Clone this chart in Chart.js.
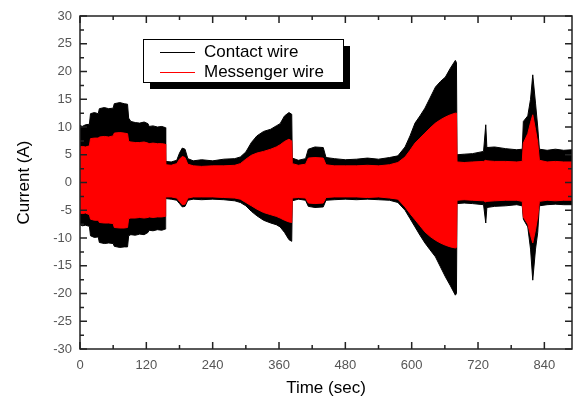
<!DOCTYPE html>
<html>
<head>
<meta charset="utf-8">
<script src="https://cdn.jsdelivr.net/npm/chart.js@4.4.1/dist/chart.umd.min.js"></script>
<style>
  body { margin: 0; background: #fff; }
  #wrap { width: 578px; height: 401px; }
</style>
</head>
<body>
<div id="wrap"><canvas id="currentChart" width="578" height="401"></canvas></div>
<script>
var timeSec = [0, 4, 10, 17, 19, 26, 33, 35, 44, 52, 60, 62, 72, 80, 86, 88, 92, 100, 108, 116, 123, 125, 132, 140, 148, 154,
    155, 165, 175, 180, 185, 190, 195, 205, 220, 240, 260, 280, 290, 300, 310, 320, 332, 345, 355, 362, 370, 378, 383,
    384, 395, 408, 413, 425, 440, 445, 460, 480, 500, 520, 540, 560, 575, 588, 597, 606, 615, 624, 633, 643, 652,
    661, 670, 679, 681, 682, 695, 710, 730, 734, 736, 750, 770, 790, 800, 802, 810, 815, 819, 824, 828, 831, 845, 860,
    875, 890];
var contactUpper = [10.3, 10.1, 10.4, 10.5, 12.4, 12.6, 12.4, 13.3, 13.5, 13.3, 13.4, 14.2, 14.4, 14.2, 14.1, 11.6, 11.0, 10.8, 10.7, 10.9, 10.6, 10.1, 10.2, 10.0, 10.1, 9.9,
    3.8, 3.7, 4.0, 5.3, 6.2, 6.0, 4.3, 3.9, 4.1, 3.9, 4.2, 4.3, 4.6, 5.5, 7.2, 8.4, 9.2, 9.6, 10.2, 10.6, 12.0, 12.6, 12.3,
    4.4, 4.0, 4.3, 6.0, 6.4, 6.3, 4.5, 4.3, 4.1, 4.2, 4.4, 4.2, 4.5, 4.8, 6.4, 8.4, 10.7, 12.0, 13.4, 15.2, 17.2, 18.2,
    19.0, 20.6, 22.0, 21.6, 5.0, 5.1, 5.2, 5.6, 10.4, 6.3, 6.4, 6.1, 5.9, 6.0, 11.0, 12.0, 15.0, 19.4, 14.3, 10.0, 6.0, 5.8, 6.0,
    5.8, 5.9];
var contactLower = [-7.6, -7.8, -7.7, -7.9, -9.6, -9.9, -9.8, -10.8, -11.0, -10.9, -11.0, -11.5, -11.7, -11.6, -11.6, -9.6, -9.4, -9.5, -9.3, -9.4, -9.0, -8.6, -8.7, -8.5, -8.6, -8.4,
    -2.9, -3.0, -3.2, -3.8, -4.4, -4.3, -3.2, -3.0, -3.1, -3.0, -3.1, -3.3, -3.6, -4.2, -5.2, -6.0, -6.8, -7.3, -7.6, -8.0, -9.0, -10.3, -10.6,
    -3.3, -3.0, -3.2, -4.3, -4.5, -4.4, -3.2, -3.1, -3.0, -3.1, -3.0, -3.1, -3.2, -3.6, -5.0, -6.5, -8.0, -9.5, -10.9, -12.1, -13.4, -15.2,
    -17.0, -18.6, -20.3, -20.0, -3.8, -3.7, -3.8, -4.0, -7.3, -4.5, -4.3, -4.2, -4.0, -4.2, -6.6, -8.0, -12.0, -17.6, -12.0, -9.0, -4.2, -4.0, -3.9,
    -4.0, -4.0];
var messengerUpper = [6.4, 6.5, 6.4, 6.6, 7.9, 8.0, 8.0, 8.2, 8.3, 8.2, 8.4, 8.9, 9.0, 8.9, 8.8, 7.4, 7.3, 7.2, 7.2, 7.3, 7.1, 7.0, 7.1, 7.0, 7.0, 6.9,
    3.2, 3.1, 3.4, 4.2, 4.7, 4.5, 3.3, 3.0, 2.9, 3.0, 3.0, 3.1, 3.4, 4.2, 4.9, 5.3, 5.6, 6.0, 6.4, 6.8, 7.4, 7.8, 7.5,
    3.4, 3.1, 3.3, 4.4, 4.5, 4.4, 3.2, 3.0, 3.0, 3.0, 3.1, 3.0, 3.2, 3.6, 4.6, 5.8, 7.1, 8.0, 8.9, 9.8, 10.7, 11.3,
    11.8, 12.2, 12.5, 12.5, 3.7, 3.6, 3.7, 3.8, 4.0, 3.9, 3.8, 3.8, 3.7, 3.8, 7.1, 8.8, 10.8, 12.2, 9.5, 7.2, 4.0, 3.7, 3.8,
    3.7, 3.7];
var messengerLower = [-5.5, -5.6, -5.5, -5.8, -6.6, -6.8, -6.8, -7.2, -7.3, -7.3, -7.4, -8.1, -8.2, -8.2, -8.1, -6.5, -6.4, -6.4, -6.3, -6.4, -6.3, -6.2, -6.3, -6.2, -6.2, -6.1,
    -2.6, -2.6, -2.8, -3.4, -4.0, -3.9, -2.8, -2.6, -2.6, -2.6, -2.7, -2.8, -3.0, -3.6, -4.2, -4.8, -5.4, -5.8, -6.1, -6.4, -6.8, -7.1, -7.2,
    -2.8, -2.7, -2.8, -3.7, -3.8, -3.7, -2.7, -2.6, -2.6, -2.6, -2.7, -2.6, -2.8, -3.0, -4.4, -5.6, -6.7, -7.8, -8.9, -9.7, -10.4, -10.9,
    -11.3, -11.6, -11.8, -11.7, -3.2, -3.1, -3.2, -3.3, -3.5, -3.4, -3.3, -3.2, -3.2, -3.4, -6.2, -7.5, -9.5, -10.9, -8.5, -6.2, -3.4, -3.2, -3.3,
    -3.2, -3.2];

var xTicks = [0, 120, 240, 360, 480, 600, 720, 840];
var yTicks = [-30, -25, -20, -15, -10, -5, 0, 5, 10, 15, 20, 25, 30];
var seriesNames = ['Contact wire', 'Messenger wire'];

function pts(vals) {
    return timeSec.map(function (t, i) { return { x: t, y: vals[i] }; });
}

// frame with inward major/minor ticks on all four sides
var framePlugin = {
    id: 'frame',
    afterDatasetsDraw: function (chart) {
        var ctx = chart.ctx, a = chart.chartArea;
        var xs = chart.scales.x, ys = chart.scales.y;
        ctx.save();
        ctx.strokeStyle = '#222';
        ctx.lineWidth = 1.5;
        ctx.beginPath();
        xTicks.forEach(function (v) {
            var px = xs.getPixelForValue(v);
            ctx.moveTo(px, a.bottom); ctx.lineTo(px, a.bottom - 7);
            ctx.moveTo(px, a.top); ctx.lineTo(px, a.top + 7);
            var m = xs.getPixelForValue(v + 60);
            if (m < a.right) {
                ctx.moveTo(m, a.bottom); ctx.lineTo(m, a.bottom - 4);
                ctx.moveTo(m, a.top); ctx.lineTo(m, a.top + 4);
            }
        });
        yTicks.forEach(function (v) {
            var py = ys.getPixelForValue(v);
            ctx.moveTo(a.left, py); ctx.lineTo(a.left + 7, py);
            ctx.moveTo(a.right, py); ctx.lineTo(a.right - 7, py);
            if (v < 30) {
                var m = ys.getPixelForValue(v + 2.5);
                ctx.moveTo(a.left, m); ctx.lineTo(a.left + 4, m);
                ctx.moveTo(a.right, m); ctx.lineTo(a.right - 4, m);
            }
        });
        ctx.stroke();
        ctx.strokeRect(a.left, a.top, a.right - a.left, a.bottom - a.top);
        ctx.restore();
    }
};

// boxed legend with a drop shadow
var legendPlugin = {
    id: 'boxLegend',
    afterDraw: function (chart) {
        var ctx = chart.ctx, a = chart.chartArea;
        var x = a.left + 63, y = a.top + 23, w = 200, h = 43;
        ctx.save();
        ctx.fillStyle = '#000';
        ctx.fillRect(x + 7, y + 7, w, h);
        ctx.fillStyle = '#fff';
        ctx.fillRect(x, y, w, h);
        ctx.strokeStyle = '#000';
        ctx.lineWidth = 1;
        ctx.strokeRect(x + 0.5, y + 0.5, w, h);
        var colors = ['#000', '#ff0000'];
        ctx.font = '17px "Liberation Sans", Arial, sans-serif';
        ctx.textBaseline = 'middle';
        seriesNames.forEach(function (name, i) {
            var ly = y + 13 + i * 20;
            ctx.strokeStyle = colors[i];
            ctx.beginPath();
            ctx.moveTo(x + 17, ly + 0.5); ctx.lineTo(x + 52, ly + 0.5);
            ctx.stroke();
            ctx.fillStyle = '#000';
            ctx.fillText(name, x + 61, ly);
        });
        ctx.restore();
    }
};

var ctxCurrent = document.getElementById('currentChart').getContext('2d');
var currentChart = new Chart(ctxCurrent, {
    type: 'line',
    data: {
        datasets: [{
            label: seriesNames[0],
            data: pts(contactUpper),
            borderColor: '#000', backgroundColor: '#000',
            borderWidth: 1, pointRadius: 0, fill: '+1', order: 2
        }, {
            label: seriesNames[0] + ' lower',
            data: pts(contactLower),
            borderColor: '#000', backgroundColor: '#000',
            borderWidth: 1, pointRadius: 0, fill: false, order: 2
        }, {
            label: seriesNames[1],
            data: pts(messengerUpper),
            borderColor: '#ff0000', backgroundColor: '#ff0000',
            borderWidth: 1, pointRadius: 0, fill: '+1', order: 1
        }, {
            label: seriesNames[1] + ' lower',
            data: pts(messengerLower),
            borderColor: '#ff0000', backgroundColor: '#ff0000',
            borderWidth: 1, pointRadius: 0, fill: false, order: 1
        }]
    },
    options: {
        responsive: false,
        animation: false,
        layout: { padding: { top: 16, right: 6, left: 0, bottom: 0 } },
        plugins: { legend: { display: false }, tooltip: { enabled: false } },
        scales: {
            x: {
                type: 'linear', min: 0, max: 890,
                afterBuildTicks: function (s) { s.ticks = xTicks.map(function (v) { return { value: v }; }); },
                afterFit: function (s) { s.height = 52; },
                grid: { display: false, drawTicks: false },
                border: { display: false },
                ticks: { padding: 9, color: '#555', font: { family: '"Liberation Sans", Arial, sans-serif', size: 13 }, maxRotation: 0 },
                title: { display: true, text: 'Time (sec)', color: '#000',
                    font: { family: '"Liberation Sans", Arial, sans-serif', size: 17 }, padding: { top: 0, bottom: 2 } }
            },
            y: {
                min: -30, max: 30,
                afterBuildTicks: function (s) { s.ticks = yTicks.map(function (v) { return { value: v }; }); },
                afterFit: function (s) { s.width = 80; },
                grid: { display: false, drawTicks: false },
                border: { display: false },
                ticks: { padding: 8, color: '#555', font: { family: '"Liberation Sans", Arial, sans-serif', size: 13 } },
                title: { display: true, text: 'Current (A)', color: '#000',
                    font: { family: '"Liberation Sans", Arial, sans-serif', size: 17 }, padding: { top: 14, bottom: 0 } }
            }
        }
    },
    plugins: [framePlugin, legendPlugin]
});
</script>
</body>
</html>
